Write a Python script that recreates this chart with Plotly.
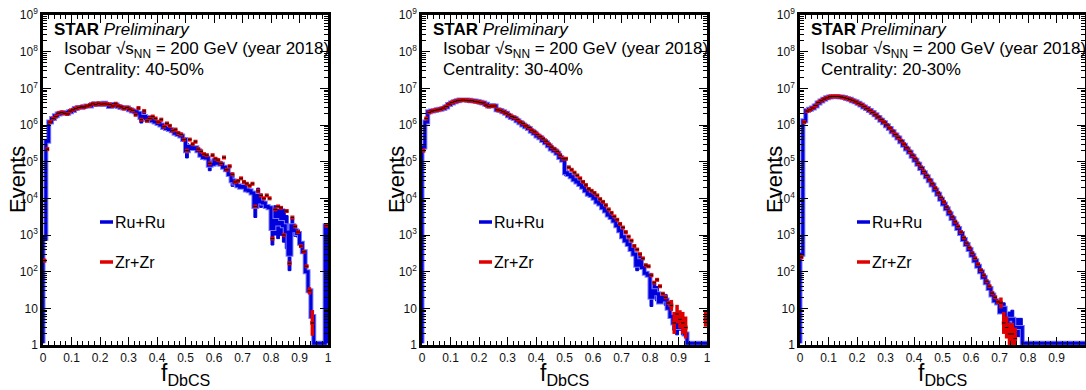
import plotly.graph_objects as go

# ---------------- data ----------------
centralities = ["40-50%", "30-40%", "20-30%"]
x_tick_labels = ["0", "0.1", "0.2", "0.3", "0.4", "0.5", "0.6", "0.7", "0.8", "0.9", "1"]
x_tick_values = [0, 0.1, 0.2, 0.3, 0.4, 0.5, 0.6, 0.7, 0.8, 0.9, 1.0]
y_tick_labels = ["1", "10", "10<sup>2</sup>", "10<sup>3</sup>", "10<sup>4</sup>", "10<sup>5</sup>",
                 "10<sup>6</sup>", "10<sup>7</sup>", "10<sup>8</sup>", "10<sup>9</sup>"]
y_tick_values = [1, 1e1, 1e2, 1e3, 1e4, 1e5, 1e6, 1e7, 1e8, 1e9]
bin_width = 0.01  # 100 bins on [0, 1]

# Ru+Ru, centrality 40-50%
ru_4050 = [8e2, 3.6e5, 1.2e6, 1.5e6, 1.8e6, 2.0e6, 2.1e6, 2.2e6, 2.1e6, 2.3e6,
           2.5e6, 2.8e6, 3.0e6, 3.0e6, 3.2e6, 3.3e6, 3.3e6, 3.6e6, 3.8e6, 3.7e6,
           3.6e6, 3.9e6, 3.6e6, 3.2e6, 3.6e6, 3.5e6, 3.2e6, 3.0e6, 2.9e6, 2.9e6,
           2.6e6, 2.4e6, 2.3e6, 2.1e6, 1.6e6, 1.7e6, 1.5e6, 1.6e6, 1.3e6, 1.2e6,
           1.1e6, 1.0e6, 8.5e5, 8.0e5, 7.5e5, 7.0e5, 6.0e5, 5.5e5, 5.0e5, 4.0e5,
           2.0e5, 2.6e5, 2.3e5, 2.4e5, 2.0e5, 1.5e5, 1.3e5, 1.25e5, 8.0e4, 8.5e4,
           1.1e5, 9.0e4, 8.5e4, 7.0e4, 6.0e4, 4.5e4, 3.0e4, 2.6e4, 2.2e4, 2.0e4,
           2.1e4, 1.7e4, 1.6e4, 1.4e4, 6.0e3, 1.2e4, 8.0e3, 7.5e3, 6.0e3, 5.5e3,
           1.5e3, 2.5e3, 2.0e3, 2.2e3, 1.8e3, 1.2e3, 3.0e2, 1.8e3, 1.3e3, 1.1e3,
           6.0e2, 3.5e2, 1.0e2, 3.0e1, 6, 0, 0, 0, 0, 1.8e3]
zr_4050 = [2e2, 2.2e5, 1.2e6, 1.5e6, 1.7e6, 2.1e6, 2.2e6, 2.1e6, 2.0e6, 2.4e6,
           2.6e6, 2.8e6, 3.0e6, 3.1e6, 3.1e6, 3.3e6, 3.5e6, 3.8e6, 3.6e6, 3.9e6,
           3.7e6, 3.8e6, 3.7e6, 3.6e6, 3.3e6, 3.8e6, 3.3e6, 3.1e6, 2.8e6, 3.0e6,
           2.7e6, 2.5e6, 1.9e6, 2.9e6, 1.4e6, 2.4e6, 1.3e6, 1.5e6, 1.7e6, 1.5e6,
           1.2e6, 1.4e6, 9.0e5, 1.1e6, 9.5e5, 7.0e5, 7.5e5, 6.0e5, 5.5e5, 4.0e5,
           2.0e5, 4.0e5, 3.0e5, 3.5e5, 2.2e5, 1.9e5, 1.6e5, 1.5e5, 9.0e4, 1.5e5,
           1.2e5, 1.1e5, 9.0e4, 1.3e5, 6.0e4, 7.5e4, 4.5e4, 2.8e4, 3.0e4, 3.5e4,
           2.8e4, 2.5e4, 2.2e4, 2.5e4, 6.0e3, 1.6e4, 1.2e4, 1.0e4, 1.2e4, 1.0e4,
           8.0e2, 5.0e3, 6.0e3, 5.5e3, 1.0e3, 4.5e3, 1.7e2, 3.0e3, 1.7e3, 1.2e3,
           5.0e2, 3.5e2, 1.4e2, 3.0e1, 4, 0, 0, 0, 0, 1.8e3]

# Ru+Ru / Zr+Zr, centrality 30-40%
ru_3040 = [2.5e5, 1.2e6, 2.3e6, 2.4e6, 2.5e6, 2.6e6, 2.7e6, 2.8e6, 3.1e6, 3.6e6,
           4.0e6, 4.3e6, 4.6e6, 4.8e6, 4.8e6, 4.8e6, 4.7e6, 4.6e6, 4.5e6, 4.4e6,
           4.2e6, 4.0e6, 3.7e6, 3.3e6, 3.4e6, 3.3e6, 2.6e6, 2.5e6, 2.3e6, 2.1e6,
           1.8e6, 1.6e6, 1.5e6, 1.3e6, 1.15e6, 1.0e6, 9.0e5, 8.0e5, 6.8e5, 6.0e5,
           5.0e5, 4.5e5, 3.8e5, 3.3e5, 2.7e5, 2.2e5, 2.0e5, 1.7e5, 1.3e5, 1.1e5,
           5.0e4, 4.5e4, 3.9e4, 3.2e4, 2.8e4, 2.4e4, 2.0e4, 1.6e4, 1.3e4, 1.2e4,
           1.0e4, 8.0e3, 7.0e3, 5.5e3, 4.5e3, 3.5e3, 3.0e3, 2.4e3, 1.8e3, 1.3e3,
           9.0e2, 7.0e2, 5.5e2, 4.0e2, 3.0e2, 1.5e2, 2.0e2, 1.3e2, 9.0e1, 8.0e1,
           2.0e1, 3.0e1, 2.5e1, 1.5e1, 2.0e1, 1.7e1, 1.0e1, 6, 4, 3,
           4, 3, 2, 0, 0, 0, 0, 0, 0, 0]
zr_3040 = [2.0e5, 1.5e6, 2.2e6, 2.4e6, 2.5e6, 2.6e6, 2.7e6, 2.9e6, 3.2e6, 3.7e6,
           4.1e6, 4.4e6, 4.6e6, 4.7e6, 4.8e6, 4.7e6, 4.6e6, 4.6e6, 4.4e6, 4.3e6,
           4.1e6, 4.0e6, 3.5e6, 3.2e6, 3.3e6, 3.3e6, 2.6e6, 2.5e6, 2.3e6, 2.1e6,
           1.9e6, 1.7e6, 1.6e6, 1.4e6, 1.2e6, 1.1e6, 9.5e5, 8.5e5, 7.2e5, 6.5e5,
           5.5e5, 4.8e5, 4.2e5, 3.6e5, 3.0e5, 2.5e5, 2.2e5, 1.9e5, 1.5e5, 1.2e5,
           1.2e5, 7.0e4, 6.0e4, 5.0e4, 4.2e4, 3.5e4, 2.8e4, 2.3e4, 1.8e4, 1.6e4,
           1.4e4, 1.2e4, 9.5e3, 8.0e3, 6.5e3, 5.0e3, 4.0e3, 3.2e3, 2.6e3, 2.0e3,
           1.6e3, 1.2e3, 9.0e2, 7.0e2, 5.0e2, 4.0e2, 3.0e2, 2.3e2, 1.5e2, 1.4e2,
           8.0e1, 5.0e1, 6.0e1, 4.0e1, 2.5e1, 2.0e1, 1.4e1, 1.2e1, 4, 7,
           5, 4, 3, 0, 0, 0, 0, 0, 0, 5]

# Ru+Ru / Zr+Zr, centrality 20-30%
ru_2030 = [3e2, 1.3e6, 2.5e6, 2.7e6, 2.9e6, 3.3e6, 4.0e6, 4.5e6, 5.0e6, 5.5e6,
           5.8e6, 6.0e6, 6.0e6, 5.9e6, 5.8e6, 5.6e6, 5.3e6, 5.0e6, 4.6e6, 4.3e6,
           3.9e6, 3.5e6, 3.1e6, 2.8e6, 2.5e6, 2.2e6, 1.9e6, 1.6e6, 1.35e6, 1.15e6,
           9.5e5, 8.0e5, 6.5e5, 5.3e5, 4.4e5, 3.5e5, 2.8e5, 2.2e5, 1.8e5, 1.4e5,
           1.1e5, 8.5e4, 6.5e4, 5.0e4, 3.9e4, 3.0e4, 2.3e4, 1.7e4, 1.3e4, 9.5e3,
           7.0e3, 5.2e3, 3.8e3, 2.8e3, 2.0e3, 1.5e3, 1.1e3, 7.5e2, 5.5e2, 4.0e2,
           2.8e2, 2.0e2, 1.4e2, 1.0e2, 7.0e1, 5.0e1, 3.5e1, 2.3e1, 1.6e1, 1.4e1,
           8, 1.0e1, 4, 5, 5, 3, 3, 3, 0, 0,
           0, 0, 0, 0, 0, 0, 0, 0, 0, 0,
           0, 0, 0, 0, 0, 0, 0, 0, 0, 0]
zr_2030 = [2.5e2, 1.2e6, 2.4e6, 2.6e6, 2.9e6, 3.4e6, 4.1e6, 4.6e6, 5.1e6, 5.5e6,
           5.9e6, 6.0e6, 6.0e6, 6.0e6, 5.8e6, 5.6e6, 5.3e6, 5.0e6, 4.7e6, 4.3e6,
           3.9e6, 3.6e6, 3.2e6, 2.8e6, 2.5e6, 2.2e6, 1.9e6, 1.65e6, 1.4e6, 1.2e6,
           1.0e6, 8.3e5, 6.8e5, 5.5e5, 4.6e5, 3.7e5, 3.0e5, 2.4e5, 1.9e5, 1.5e5,
           1.2e5, 9.0e4, 7.0e4, 5.4e4, 4.2e4, 3.2e4, 2.5e4, 1.9e4, 1.4e4, 1.05e4,
           8.0e3, 5.8e3, 4.3e3, 3.1e3, 2.3e3, 1.7e3, 1.2e3, 8.5e2, 6.0e2, 4.5e2,
           3.2e2, 2.3e2, 1.6e2, 1.1e2, 8.0e1, 5.5e1, 4.0e1, 2.6e1, 2.0e1, 1.5e1,
           1.4e1, 4, 3, 2, 2, 1.5, 0, 0, 0, 0,
           0, 0, 0, 0, 0, 0, 0, 0, 0, 0,
           0, 0, 0, 0, 0, 0, 0, 0, 0, 0]

# visible uncertainty boxes: bin index -> half-height in decades
ru_err_4050 = {34: 0.15, 35: 0.12, 50: 0.2, 58: 0.15, 66: 0.15, 74: 0.3, 75: 0.2,
               76: 0.15, 80: 0.45, 81: 0.4, 82: 0.4, 83: 0.35, 84: 0.45, 85: 0.45,
               86: 0.45, 87: 0.2, 88: 0.15, 89: 0.1}
ru_err_3040 = {50: 0.08, 75: 0.15, 76: 0.12, 80: 0.25, 81: 0.2, 82: 0.2, 85: 0.15,
               88: 0.2, 89: 0.2, 90: 0.2, 91: 0.2}
ru_err_2030 = {71: 0.15, 72: 0.25, 73: 0.2, 74: 0.25, 75: 0.25, 76: 0.25, 77: 0.25}
zr_err_4050 = {93: 0.1, 94: 0.35}
zr_err_3040 = {87: 0.15, 88: 0.3, 89: 0.25, 90: 0.25, 91: 0.3, 92: 0.3, 99: 0.2}
zr_err_2030 = {70: 0.15, 71: 0.3, 72: 0.3, 73: 0.3, 74: 0.3, 75: 0.3}

panels = [
    (ru_4050, zr_4050, ru_err_4050, zr_err_4050),
    (ru_3040, zr_3040, ru_err_3040, zr_err_3040),
    (ru_2030, zr_2030, ru_err_2030, zr_err_2030),
]

# ---------------- layout geometry ----------------
W, H = 1086, 390
frame_left = [43, 422, 800]
frame_w = 285
frame_top, frame_bot = 15, 345
Y_FLOOR = 1.12  # empty bins drawn at bottom of frame, as ROOT does

BLUE = "#0000dc"
HALO = "#7a7aff"
RED = "#e00000"

def px(x):
    return x / W

def py(y):
    return 1 - y / H

fig = go.Figure()
nb = len(ru_4050)
edges = [i * bin_width for i in range(nb + 1)]
centers = [(i + 0.5) * bin_width for i in range(nb)]

for k, (ru, zr, ru_err, zr_err) in enumerate(panels):
    xa = "x" if k == 0 else f"x{k+1}"
    ya = "y" if k == 0 else f"y{k+1}"

    # error boxes of Ru+Ru
    bx, by = [], []
    for i, d in ru_err.items():
        if ru[i] <= 0:
            continue
        lo, hi = ru[i] / 10 ** d, ru[i] * 10 ** d
        bx += [edges[i], edges[i + 1], edges[i + 1], edges[i], edges[i], None]
        by += [lo, lo, hi, hi, lo, None]
    fig.add_trace(go.Scatter(x=bx, y=by, mode="lines", fill="toself", fillcolor=BLUE,
                             line=dict(color=BLUE, width=1), xaxis=xa, yaxis=ya,
                             hoverinfo="skip", showlegend=False))

    # step histogram for Ru+Ru
    yy = [v if v > 0 else Y_FLOOR for v in ru]
    sx = [0] + edges[:-1] + [1, 1]
    sy = [Y_FLOOR] + yy + [yy[-1], Y_FLOOR]
    fig.add_trace(go.Scatter(x=sx, y=sy, mode="lines", line=dict(color=HALO, width=5, shape="hv"),
                             xaxis=xa, yaxis=ya, hoverinfo="skip", showlegend=False))
    fig.add_trace(go.Scatter(x=sx, y=sy, mode="lines", line=dict(color=BLUE, width=3, shape="hv"),
                             xaxis=xa, yaxis=ya, name="Ru+Ru", showlegend=False))

    # Zr+Zr points
    zx = [c for c, v in zip(centers, zr) if v > 0]
    zy = [v for v in zr if v > 0]
    zi = [i for i, v in enumerate(zr) if v > 0]
    up = [(zr[i] * 10 ** zr_err[i] - zr[i]) if i in zr_err else 0 for i in zi]
    dn = [(zr[i] - zr[i] / 10 ** zr_err[i]) if i in zr_err else 0 for i in zi]
    fig.add_trace(go.Scatter(x=zx, y=zy, mode="markers",
                             marker=dict(symbol="square", size=4, color=RED, line=dict(width=0)),
                             error_y=dict(type="data", array=up, arrayminus=dn, symmetric=False,
                                          color=RED, thickness=3.5, width=0),
                             xaxis=xa, yaxis=ya, name="Zr+Zr", showlegend=False))
    fig.add_trace(go.Scatter(x=zx, y=zy, mode="markers",
                             marker=dict(symbol="line-ew", size=2.5, color="black",
                                         line=dict(width=1, color="black")),
                             xaxis=xa, yaxis=ya, hoverinfo="skip", showlegend=False))

minor_y = [m * 10 ** e for e in range(9) for m in range(2, 10)]
font = "Liberation Sans, Arial, Helvetica, sans-serif"

layout = dict(width=W, height=H, margin=dict(l=0, r=0, t=0, b=0, autoexpand=False),
              paper_bgcolor="white", plot_bgcolor="white", showlegend=False,
              font=dict(family=font, color="black"))
for k in range(3):
    sfx = "" if k == 0 else str(k + 1)
    L = frame_left[k]
    layout["xaxis" + sfx] = dict(
        domain=[px(L), px(L + frame_w)], range=[0, 1], anchor="y" + sfx, automargin=False,
        tickmode="array", tickvals=x_tick_values, ticktext=x_tick_labels,
        ticks="inside", ticklen=8, tickwidth=1, tickcolor="black",
        showline=True, linewidth=2.5, linecolor="black", mirror="allticks",
        showgrid=False, zeroline=False, tickfont=dict(size=12, color="#111"),
        minor=dict(tickmode="linear", tick0=0, dtick=0.02, ticks="inside", ticklen=4,
                   tickcolor="black", tickwidth=1, showgrid=False))
    layout["yaxis" + sfx] = dict(
        domain=[1 - frame_bot / H, 1 - frame_top / H], type="log", range=[0, 9], anchor="x" + sfx,
        automargin=False,
        tickmode="array", tickvals=y_tick_values, ticktext=y_tick_labels,
        ticks="inside", ticklen=8, tickwidth=1, tickcolor="black",
        showline=True, linewidth=2.5, linecolor="black", mirror="allticks",
        showgrid=False, zeroline=False, tickfont=dict(size=12, color="#111"),
        minor=dict(tickmode="array", tickvals=minor_y, ticks="inside", ticklen=4,
                   tickcolor="black", tickwidth=1, showgrid=False))
fig.update_layout(**layout)

ann = []
shapes = []
for k in range(3):
    L = frame_left[k]
    ann.append(dict(text="<b>STAR</b> <i>Preliminary</i>", x=px(L + 9), y=py(30), xref="paper", yref="paper",
                    xanchor="left", yanchor="middle", showarrow=False, font=dict(size=17)))
    ann.append(dict(text="Isobar √s<sub>NN</sub> = 200 GeV (year 2018)", x=px(L + 19), y=py(50),
                    xref="paper", yref="paper", xanchor="left", yanchor="middle", showarrow=False,
                    font=dict(size=17)))
    ann.append(dict(text="Centrality: " + centralities[k], x=px(L + 19), y=py(69.5), xref="paper", yref="paper",
                    xanchor="left", yanchor="middle", showarrow=False, font=dict(size=17)))
    ann.append(dict(text="Ru+Ru", x=px(L + 70), y=py(222), xref="paper", yref="paper",
                    xanchor="left", yanchor="middle", showarrow=False, font=dict(size=16)))
    ann.append(dict(text="Zr+Zr", x=px(L + 70), y=py(262), xref="paper", yref="paper",
                    xanchor="left", yanchor="middle", showarrow=False, font=dict(size=16)))
    ann.append(dict(text="Events", x=px(L - 26), y=py(180), xref="paper", yref="paper", textangle=-90,
                    xanchor="center", yanchor="middle", showarrow=False, font=dict(size=22)))
    ann.append(dict(text="f<sub>DbCS</sub>", x=px(L + frame_w / 2), y=py(374), xref="paper", yref="paper",
                    xanchor="center", yanchor="middle", showarrow=False, font=dict(size=23)))
    shapes.append(dict(type="line", xref="paper", yref="paper", x0=px(L + 57), x1=px(L + 70),
                       y0=py(222), y1=py(222), line=dict(color=BLUE, width=3.5)))
    shapes.append(dict(type="line", xref="paper", yref="paper", x0=px(L + 57), x1=px(L + 70),
                       y0=py(262), y1=py(262), line=dict(color=RED, width=3.5)))
fig.update_layout(annotations=ann, shapes=shapes)

fig.write_html("out.html", config={"displayModeBar": False},
               post_script="document.body.style.margin='0px';")
